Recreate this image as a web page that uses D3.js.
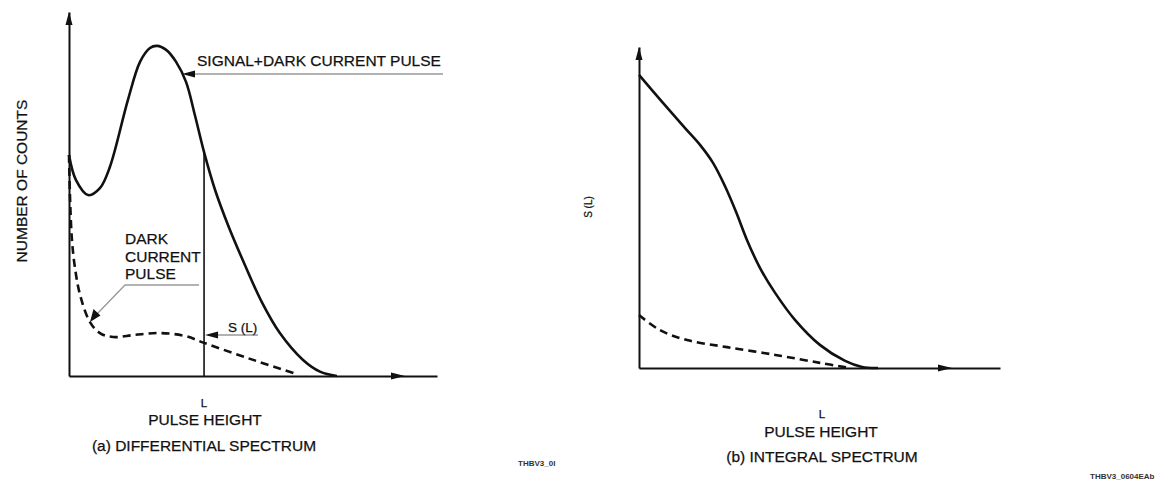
<!DOCTYPE html>
<html>
<head>
<meta charset="utf-8">
<script src="https://cdn.jsdelivr.net/npm/d3@7"></script>
<style>
  body { margin: 0; background: #fff; }
  svg text { font-family: "Liberation Sans", Arial, sans-serif; fill: #111; stroke: #111; stroke-width: 0.25; }
  .axis path { stroke: #111; stroke-width: 2; }
  .lead { stroke: #999; stroke-width: 1.3; fill: none; }
</style>
</head>
<body>
<svg id="chart" width="1161" height="480"></svg>
<script>
"use strict";

// (a) differential spectrum, pulse height vs counts (arbitrary units 0-100)
var diffTotal = [[0,60.7],[1.9,53.8],[5.2,49.7],[8.4,51.6],[11.1,57.4],[16.0,75.8],[19.3,86.3],[22.0,90.1],
  [23.9,90.7],[26.4,89.6],[29.1,86.3],[31.8,80.8],[34.2,71.7],[36.7,61.5],[39.7,51.1],[43.2,41.5],
  [47.8,30.5],[52.4,20.3],[57.3,11.8],[63.6,4.4],[68.2,1.2],[72.8,0]];
var diffDark = [[0,60.7],[0.3,48.4],[0.8,37.4],[1.6,29.9],[3.0,22.3],[5.7,14.8],[8.4,11.8],[12.0,10.7],
  [17.9,11.3],[24.7,11.8],[31.5,11.0],[36.7,9.1],[49.2,4.7],[62.0,0.5]];
var levelL = 36.7;

// (b) integral spectrum S(L)
var intTotal = [[0,91.3],[6.4,82.9],[12.7,74.8],[16.9,69.5],[20.5,63.9],[23.8,56.7],[26.9,48.6],[29.9,39.9],
  [33.5,31.2],[37.7,23.4],[43.2,15.0],[50.1,7.2],[57.1,2.2],[61.8,0.3],[66.2,0]];
var intDark = [[0,16.5],[5.8,11.8],[13.3,8.7],[24.4,6.5],[38.2,4.0],[50.1,1.6],[58.4,0]];

var darkLabel = ["DARK", "CURRENT", "PULSE"];

var svg = d3.select("#chart");

var xa = d3.scaleLinear().domain([0, 100]).range([69, 437]);
var ya = d3.scaleLinear().domain([0, 100]).range([376, 12]);
var xb = d3.scaleLinear().domain([0, 100]).range([639, 1000]);
var yb = d3.scaleLinear().domain([0, 100]).range([368, 47]);

function arrow(x, y, dir, len, half) {
  // dir: "up" or "right"
  var p = dir === "up"
    ? [[x, y], [x - half, y + len], [x + half, y + len]]
    : [[x, y], [x - len, y - half], [x - len, y + half]];
  svg.append("path").attr("d", "M" + p.join("L") + "Z").attr("fill", "#111");
}

function drawAxes(x, y, arrowX) {
  svg.append("g").attr("class", "axis")
    .attr("transform", "translate(0," + y.range()[0] + ")")
    .call(d3.axisBottom(x).tickValues([]).tickSizeOuter(0));
  svg.append("g").attr("class", "axis")
    .attr("transform", "translate(" + x.range()[0] + ",0)")
    .call(d3.axisLeft(y).tickValues([]).tickSizeOuter(0));
  arrow(x.range()[0], y.range()[1], "up", 13, 3.5);
  arrow(arrowX, y.range()[0], "right", 14, 3.5);
}

function curve(data, x, y, dashed) {
  var line = d3.line().x(function(d) { return x(d[0]); }).y(function(d) { return y(d[1]); })
    .curve(d3.curveCatmullRom.alpha(0.5));
  svg.append("path").datum(data)
    .attr("d", line)
    .attr("fill", "none")
    .attr("stroke", "#111")
    .attr("stroke-width", 2.6)
    .attr("stroke-dasharray", dashed ? "8,5" : null);
}

// ---- (a) differential spectrum
drawAxes(xa, ya, 405);
curve(diffDark, xa, ya, true);
curve(diffTotal, xa, ya, false);

var lAt = diffTotal.find(function(d) { return d[0] === levelL; });
svg.append("line")
  .attr("x1", xa(levelL)).attr("x2", xa(levelL))
  .attr("y1", ya(lAt[1])).attr("y2", ya(0))
  .attr("stroke", "#111").attr("stroke-width", 1.6);

// signal + dark current leader
svg.append("line").attr("class", "lead").attr("x1", 443).attr("x2", 190).attr("y1", 74).attr("y2", 74);
arrow(182, 74, "right", -13, 3.5);
svg.append("text").attr("x", 197).attr("y", 66).attr("font-size", 15.5)
  .text("SIGNAL+DARK CURRENT PULSE");

// dark current leader
svg.append("text").attr("x", 125).attr("y", 244).attr("font-size", 15.5)
  .selectAll("tspan").data(darkLabel).join("tspan")
  .attr("x", 125).attr("dy", function(d, i) { return i ? 17.7 : 0; })
  .text(function(d) { return d; });
svg.append("path").attr("class", "lead").attr("d", "M199,285H125L97,314");
svg.append("path").attr("fill", "#111")
  .attr("d", "M90,322L93.5,309L100.5,315.5Z");

// S(L) leader
svg.append("line").attr("class", "lead").attr("x1", 258).attr("x2", 214).attr("y1", 335).attr("y2", 335);
arrow(xa(levelL) + 1, 335, "right", -13, 3.5);
svg.append("text").attr("x", 228).attr("y", 332).attr("font-size", 13.5).text("S (L)");

svg.append("text").attr("transform", "translate(21,181) rotate(-90)")
  .attr("text-anchor", "middle").attr("dy", "0.36em").attr("font-size", 15.5)
  .text("NUMBER OF COUNTS");
svg.append("text").attr("x", xa(levelL)).attr("y", 407).attr("text-anchor", "middle")
  .attr("font-size", 11.5).text("L");
svg.append("text").attr("x", 205).attr("y", 425).attr("text-anchor", "middle")
  .attr("font-size", 15.5).text("PULSE HEIGHT");
svg.append("text").attr("x", 204).attr("y", 451).attr("text-anchor", "middle")
  .attr("font-size", 15.5).text("(a) DIFFERENTIAL SPECTRUM");
svg.append("text").attr("x", 518).attr("y", 466).attr("font-size", 8).attr("font-weight", "bold")
  .style("fill", "#333").style("stroke", "none").text("THBV3_0I");

// ---- (b) integral spectrum
drawAxes(xb, yb, 952);
curve(intDark, xb, yb, true);
curve(intTotal, xb, yb, false);

svg.append("text").attr("transform", "translate(588,207) rotate(-90)")
  .attr("text-anchor", "middle").attr("dy", "0.36em").attr("font-size", 10)
  .text("S (L)");
svg.append("text").attr("x", 822).attr("y", 418).attr("text-anchor", "middle")
  .attr("font-size", 11.5).text("L");
svg.append("text").attr("x", 821).attr("y", 437).attr("text-anchor", "middle")
  .attr("font-size", 15.5).text("PULSE HEIGHT");
svg.append("text").attr("x", 822).attr("y", 462).attr("text-anchor", "middle")
  .attr("font-size", 15.5).text("(b) INTEGRAL SPECTRUM");
svg.append("text").attr("x", 1090).attr("y", 479).attr("font-size", 8).attr("font-weight", "bold")
  .style("fill", "#333").style("stroke", "none").text("THBV3_0604EAb");
</script>
</body>
</html>
